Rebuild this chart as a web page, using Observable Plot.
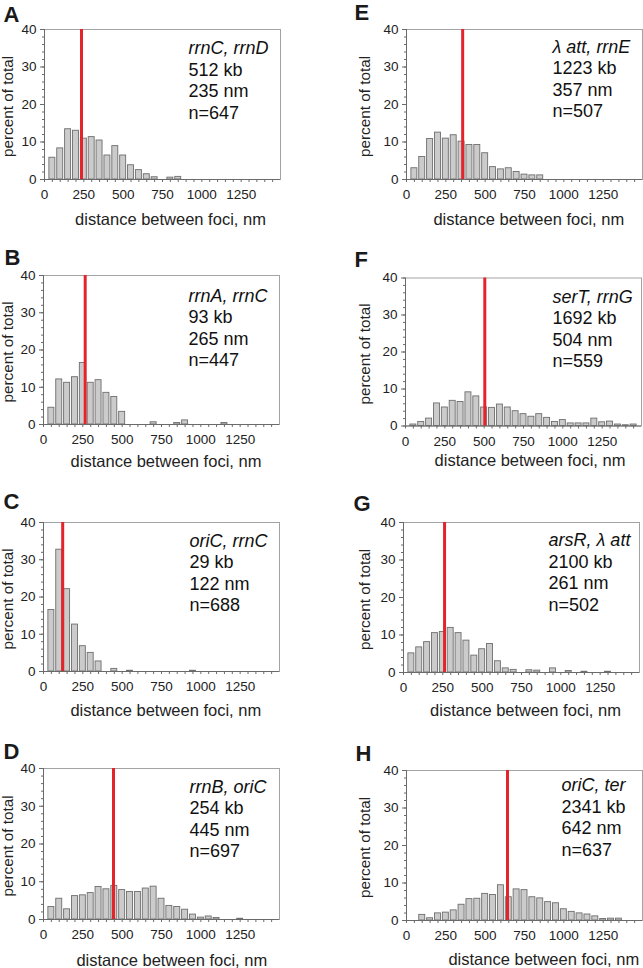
<!DOCTYPE html>
<html>
<head>
<meta charset="utf-8">
<script src="https://cdn.jsdelivr.net/npm/d3@7"></script>
<script src="https://cdn.jsdelivr.net/npm/@observablehq/plot@0.6"></script>
<style>
html, body { margin: 0; padding: 0; background: #fff; }
#wrap { position: relative; width: 643px; height: 968px; overflow: hidden; font-family: "Liberation Sans", Arial, sans-serif; }
#wrap svg { position: absolute; overflow: visible; }
</style>
</head>
<body>
<div id="wrap"></div>
<script>
// ---- data ----
const binCenters = [50,100,150,200,250,300,350,400,450,500,550,600,650,700,750,800,850,900,950,1000,1050,1100,1150,1200,1250,1300,1350,1400,1450];
const xTickLabels = [0, 250, 500, 750, 1000, 1250];
const yTickLabels = [0, 10, 20, 30, 40];
const panelLetters = ["A", "B", "C", "D", "E", "F", "G", "H"];
const lociPairs = ["rrnC, rrnD", "rrnA, rrnC", "oriC, rrnC", "rrnB, oriC", "λ att, rrnE", "serT, rrnG", "arsR, λ att", "oriC, ter"];
const genomicDistance = ["512 kb", "93 kb", "29 kb", "254 kb", "1223 kb", "1692 kb", "2100 kb", "2341 kb"];
const medianNm = [235, 265, 122, 445, 357, 504, 261, 642];
const cellCounts = [647, 447, 688, 697, 507, 559, 502, 637];

const percentA = [5.8,8.3,13.4,13.0,10.9,11.3,10.4,6.4,8.9,6.4,3.8,2.5,1.4,0.6,0,0.5,0.7,0,0,0,0,0,0,0,0,0,0,0,0];
const percentB = [4.5,12.1,11.2,12.7,16.5,11.2,11.9,8.5,7.4,3.4,0,0,0,0.6,0,0,0.4,1.1,0,0,0,0,0.4,0,0,0,0,0,0];
const percentC = [16.5,32.7,22.1,12.6,6.8,5.0,2.7,0,0.7,0,0.2,0,0,0,0,0,0,0,0.2,0,0,0,0,0,0,0,0,0,0];
const percentD = [3.3,5.5,2.7,6.2,6.4,7.0,8.6,8.0,8.9,7.8,7.3,7.3,8.2,8.7,5.5,3.6,3.3,2.6,1.3,0.5,0.8,0.4,0,0,0.2,0,0,0,0];
const percentE = [3.0,6.0,10.8,12.5,10.9,11.8,10.1,9.2,9.2,7.0,3.3,2.7,3.0,2.0,1.3,1.1,1.1,0,0,0,0,0,0,0,0,0,0,0,0];
const percentF = [0.4,1.1,2.0,6.1,5.0,6.8,6.5,9.1,8.0,5.0,4.9,5.8,5.0,4.0,3.2,2.5,3.2,2.2,1.1,1.6,0.7,0.7,0.7,2.0,1.0,1.2,0.4,0.2,0.4];
const percentG = [5.1,6.7,8.1,10.5,10.8,11.9,10.5,8.5,4.5,6.2,7.6,3.0,1.1,0.7,0,0.6,0.5,0,1.1,0,0.4,0,0.2,0,0,0.2,0,0,0];
const percentH = [0,1.5,0.6,1.9,2.1,2.7,4.2,5.7,5.8,7.1,6.8,9.4,6.2,8.3,8.1,6.2,5.9,4.9,4.6,3.0,2.3,1.9,1.6,1.1,0.4,0.5,0.5,0,0];
const percentSeries = [percentA, percentB, percentC, percentD, percentE, percentF, percentG, percentH];

// ---- layout (page positions, px) ----
const layout = [
  {svgLeft: 0,   svgTop: 0,   w: 320, h: 240, frameLeft: 44,  frameTop: 29,    frameH: 150, xLabelX: 170,   xLabelY: 219, yLabelX: 8,     letterX: 3,   letterY: 14.5,  annotDx: 144, annotDy: 19},
  {svgLeft: 0,   svgTop: 240, w: 320, h: 240, frameLeft: 43,  frameTop: 275,   frameH: 149, xLabelX: 165.5, xLabelY: 461, yLabelX: 7.5,   letterX: 4,   letterY: 257.7, annotDx: 145, annotDy: 20.5},
  {svgLeft: 0,   svgTop: 480, w: 320, h: 240, frameLeft: 43,  frameTop: 522,   frameH: 149, xLabelX: 165.3, xLabelY: 710, yLabelX: 7.5,   letterX: 3,   letterY: 501,   annotDx: 146, annotDy: 18.7},
  {svgLeft: 0,   svgTop: 720, w: 320, h: 248, frameLeft: 43,  frameTop: 768,   frameH: 151, xLabelX: 171.3, xLabelY: 960, yLabelX: 7.5,   letterX: 3,   letterY: 751,   annotDx: 146, annotDy: 18.7},
  {svgLeft: 320, svgTop: 0,   w: 323, h: 240, frameLeft: 406, frameTop: 29,    frameH: 150, xLabelX: 528.3, xLabelY: 219, yLabelX: 365,   letterX: 354, letterY: 12.5,  annotDx: 146, annotDy: 17.7},
  {svgLeft: 320, svgTop: 240, w: 323, h: 240, frameLeft: 405, frameTop: 277.5, frameH: 148, xLabelX: 529.5, xLabelY: 460, yLabelX: 365,   letterX: 354, letterY: 259.7, annotDx: 147, annotDy: 19},
  {svgLeft: 320, svgTop: 480, w: 323, h: 240, frameLeft: 403, frameTop: 522,   frameH: 150, xLabelX: 525,   xLabelY: 710, yLabelX: 364.7, letterX: 353, letterY: 503,   annotDx: 145, annotDy: 18},
  {svgLeft: 320, svgTop: 720, w: 323, h: 248, frameLeft: 406, frameTop: 770,   frameH: 150, xLabelX: 543.3, xLabelY: 959, yLabelX: 365,   letterX: 355, letterY: 753,   annotDx: 155, annotDy: 15}
];
const frameW = 236;
const lineStep = 21.5;
const font = "Liberation Sans, Arial, Helvetica, sans-serif";

const wrap = document.getElementById("wrap");

percentSeries.forEach((series, p) => {
  const L = layout[p];
  const marginLeft = L.frameLeft - L.svgLeft;
  const marginTop = L.frameTop - L.svgTop;
  const marginRight = L.w - marginLeft - frameW;
  const marginBottom = L.h - marginTop - L.frameH;
  const rows = binCenters.map((bin, i) => ({bin, pct: series[i]})).filter(d => d.pct > 0);
  const annotLines = [lociPairs[p], genomicDistance[p], `${medianNm[p]} nm`, `n=${cellCounts[p]}`];

  const marks = [
    Plot.frame({stroke: "#a3a3a3", strokeWidth: 1}),
    Plot.rectY(rows, {x1: d => d.bin - 19, x2: d => d.bin + 19, y: "pct", fill: "#cbcbcb", stroke: "#6e6e6e", strokeWidth: 0.9}),
    Plot.ruleX([0], {stroke: "#6a6a6a", strokeWidth: 1}),
    Plot.ruleY([0], {stroke: "#6a6a6a", strokeWidth: 1}),
    Plot.axisY(d3.range(0, 41, 2), {tickSize: 2, stroke: "#6a6a6a", fill: "none", label: null}),
    Plot.axisY(yTickLabels, {tickSize: 4, tickPadding: 4, stroke: "#6a6a6a", fill: "#222", fontSize: 13.5, tickFormat: d => String(d), label: null}),
    Plot.axisX(d3.range(0, 1500, 50), {tickSize: 3, stroke: "#6a6a6a", fill: "none", label: null}),
    Plot.axisX(xTickLabels, {tickSize: 0, tickPadding: 10, fill: "#222", fontSize: 13.5, tickFormat: d => String(d), label: null}),
    Plot.ruleX([medianNm[p]], {stroke: "#e3242b", strokeWidth: 3}),
    Plot.text(["distance between foci, nm"], {frameAnchor: "top-left", dx: L.xLabelX - L.frameLeft, dy: L.xLabelY - L.frameTop, text: d => d, textAnchor: "middle", lineAnchor: "middle", fontSize: 16.5, fill: "#222"}),
    Plot.text(["percent of total"], {frameAnchor: "left", dx: L.yLabelX - L.frameLeft, dy: 2, text: d => d, rotate: -90, textAnchor: "middle", lineAnchor: "middle", fontSize: 15.3, fill: "#222"}),
    Plot.text([panelLetters[p]], {frameAnchor: "top-left", dx: L.letterX - L.frameLeft, dy: L.letterY - L.frameTop, text: d => d, textAnchor: "start", lineAnchor: "middle", fontSize: 22, fontWeight: "bold", fill: "#1a1a1a"})
  ];
  annotLines.forEach((line, i) => {
    marks.push(Plot.text([line], {
      frameAnchor: "top-left", dx: L.annotDx, dy: L.annotDy + i * lineStep, text: d => d,
      textAnchor: "start", lineAnchor: "middle", fontSize: 18, fill: "#111",
      fontStyle: i === 0 ? "italic" : "normal"
    }));
  });

  const svg = Plot.plot({
    width: L.w,
    height: L.h,
    marginLeft, marginRight, marginTop, marginBottom,
    style: {fontFamily: font, fontSize: "13px", color: "#222", background: "transparent", overflow: "visible"},
    x: {domain: [0, 1500], label: null},
    y: {domain: [0, 40], label: null},
    marks
  });
  svg.style.left = L.svgLeft + "px";
  svg.style.top = L.svgTop + "px";
  wrap.appendChild(svg);
});
</script>
</body>
</html>
